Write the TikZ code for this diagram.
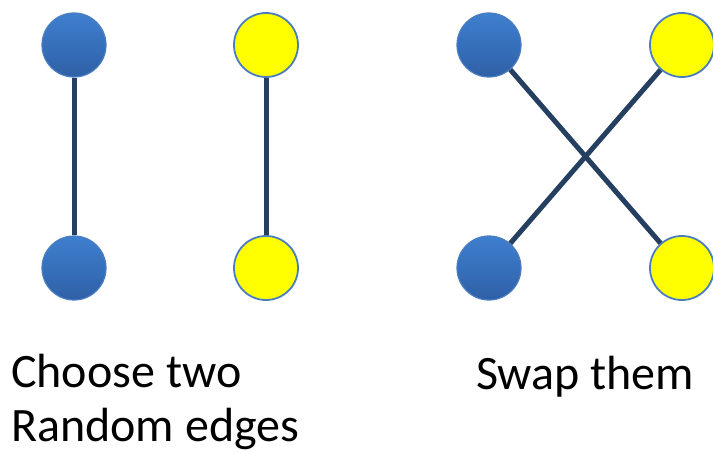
\documentclass[tikz,border=0pt]{standalone}
\usepackage{fontspec}
\setmainfont{Carlito}
\definecolor{edgecol}{HTML}{243F60}
\definecolor{bluetop}{HTML}{3F7FCF}
\definecolor{bluebot}{HTML}{2E60A6}
\definecolor{blueline}{HTML}{4A7EBE}
\definecolor{vyellow}{HTML}{FFFF00}
\begin{document}
\begin{tikzpicture}[x=1pt,y=-1pt,
  bluevert/.style={circle,minimum size=64pt,inner sep=0pt,top color=bluetop,bottom color=bluebot,draw=blueline,line width=1.2pt},
  yellowvert/.style={circle,minimum size=64pt,inner sep=0pt,fill=vyellow,draw=blueline,line width=1.8pt},
  edgeline/.style={draw=edgecol,line width=5pt},
  caption/.style={font=\fontsize{48}{54}\selectfont,inner sep=0pt,anchor=base west,align=left}]
\useasboundingbox (0,0) rectangle (713,452);
% left pair: two chosen edges
\node[bluevert] (a1) at (74,45) {};
\node[bluevert] (a2) at (74,268) {};
\node[yellowvert] (b1) at (266,45) {};
\node[yellowvert] (b2) at (266,268) {};
% right pair: swapped edges
\node[bluevert] (c1) at (489,45) {};
\node[bluevert] (c2) at (489,268) {};
\node[yellowvert] (d1) at (682,45) {};
\node[yellowvert] (d2) at (682,268) {};
\path[edgeline] (a1) -- (a2);
\path[edgeline] (b1) -- (b2);
\path[edgeline] (c1) -- (d2);
\path[edgeline] (d1) -- (c2);
\node[caption] (t1) at (11,441) {Choose two\\Random edges};
\node[caption] (t2) at (476,389) {Swap them};
\end{tikzpicture}
\end{document}
